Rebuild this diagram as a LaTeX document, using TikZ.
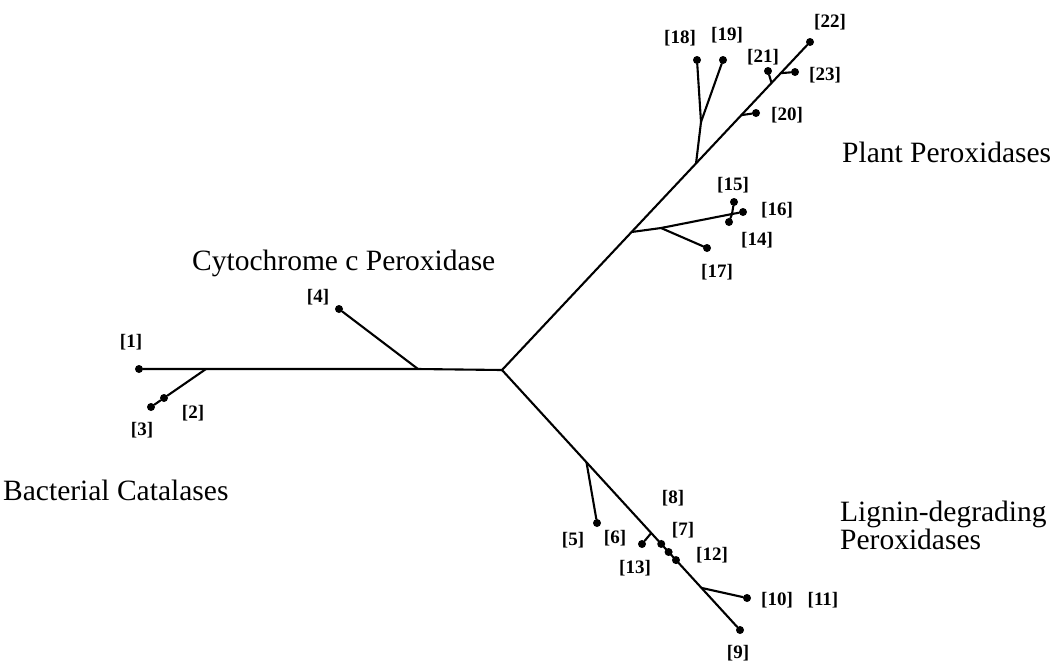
\documentclass[tikz,border=0pt]{standalone}
\usepackage{fontspec}
\setmainfont{Liberation Serif}
\usetikzlibrary{calc}
\begin{document}
\begin{tikzpicture}[x=1pt,y=-1pt,
  branch/.style={line width=2.1pt,line cap=round},
  leaf/.style={circle,fill=black,inner sep=0pt,minimum size=8pt},
  lbl/.style={font=\bfseries\fontsize{19}{21}\selectfont,inner sep=0pt},
  grp/.style={font=\fontsize{29.5}{26}\selectfont,inner sep=0pt,anchor=west,align=left}]
\useasboundingbox (0,0) rectangle (1056,665);
% root and main tips
\coordinate (c) at (502,370);
\node[leaf] (n22) at (810,42) {};
\node[leaf] (n9) at (740,630) {};
\node[leaf] (n1) at (139,369) {};
% left side
\coordinate (jL) at (206,369);
\coordinate (j4) at (418,369);
\node[leaf] (n2) at (164,398) {};
\node[leaf] (n3) at (151,407) {};
\node[leaf] (n4) at (339,309) {};
\draw[branch] (c) -- (j4) -- (jL) -- (n1);
\draw[branch] (jL) -- (n2) -- (n3);
\draw[branch] (j4) -- (n4);
% plant branch
\coordinate (jA) at ($(c)!0.4207!(n22)$);
\coordinate (jB) at ($(c)!0.63!(n22)$);
\coordinate (j20) at ($(c)!0.777!(n22)$);
\coordinate (j21) at ($(c)!0.875!(n22)$);
\coordinate (j23) at ($(c)!0.905!(n22)$);
\draw[branch] (c) -- (n22);
\coordinate (jK) at (661,228);
\coordinate (jM) at (732,214);
\node[leaf] (n15) at (734,202) {};
\node[leaf] (n16) at (743,212) {};
\node[leaf] (n14) at (729,222) {};
\node[leaf] (n17) at (707,248) {};
\draw[branch] (jA) -- (jK) -- (jM);
\draw[branch] (jM) -- (n15);
\draw[branch] (jM) -- (n16);
\draw[branch] (jM) -- (n14);
\draw[branch] (jK) -- (n17);
\coordinate (j1819) at (701,122);
\node[leaf] (n18) at (697,60) {};
\node[leaf] (n19) at (723,60) {};
\draw[branch] (jB) -- (j1819) -- (n18);
\draw[branch] (j1819) -- (n19);
\node[leaf] (n20) at (756,113) {};
\node[leaf] (n21) at (768,71) {};
\node[leaf] (n23) at (795,72) {};
\draw[branch] (j20) -- (n20);
\draw[branch] (j21) -- (n21);
\draw[branch] (j23) -- (n23);
% lignin branch
\draw[branch] (c) -- (n9);
\coordinate (j5) at ($(c)!0.355!(n9)$);
\coordinate (j6) at ($(c)!0.627!(n9)$);
\coordinate (j10) at ($(c)!0.838!(n9)$);
\node[leaf] (n5) at (597,523) {};
\node[leaf] (n6) at (642,544) {};
\node[leaf] (n7) at ($(c)!0.669!(n9)$) {};
\node[leaf] (n8) at ($(c)!0.70!(n9)$) {};
\node[leaf] (n12) at ($(c)!0.731!(n9)$) {};
\node[leaf] (n10) at (747,598) {};
\draw[branch] (j5) -- (n5);
\draw[branch] (j6) -- (n6);
\draw[branch] (j10) -- (n10);
% leaf labels
\node[lbl] (l1) at (131,342) {[1]};
\node[lbl] (l2) at (193,413) {[2]};
\node[lbl] (l3) at (142,430) {[3]};
\node[lbl] (l4) at (318,297) {[4]};
\node[lbl] (l5) at (573,540) {[5]};
\node[lbl] (l6) at (615,538) {[6]};
\node[lbl] (l7) at (683,530) {[7]};
\node[lbl] (l8) at (673,498) {[8]};
\node[lbl] (l9) at (738,653) {[9]};
\node[lbl] (l10) at (777,600) {[10]};
\node[lbl] (l11) at (823,600) {[11]};
\node[lbl] (l12) at (712,555) {[12]};
\node[lbl] (l13) at (635,568) {[13]};
\node[lbl] (l14) at (757,240) {[14]};
\node[lbl] (l15) at (733,185) {[15]};
\node[lbl] (l16) at (777,210) {[16]};
\node[lbl] (l17) at (717,272) {[17]};
\node[lbl] (l18) at (680,38) {[18]};
\node[lbl] (l19) at (727,35) {[19]};
\node[lbl] (l20) at (787,115) {[20]};
\node[lbl] (l21) at (763,57) {[21]};
\node[lbl] (l22) at (830,22) {[22]};
\node[lbl] (l23) at (825,75) {[23]};
% group labels
\node[grp] (gP) at (842,152) {Plant Peroxidases};
\node[grp] (gC) at (192,263) {Cytochrome c Peroxidase};
\node[grp] (gB) at (3,490) {Bacterial Catalases};
\node[grp] (gL) at (840,525) {Lignin-degrading\\Peroxidases};
\end{tikzpicture}
\end{document}
